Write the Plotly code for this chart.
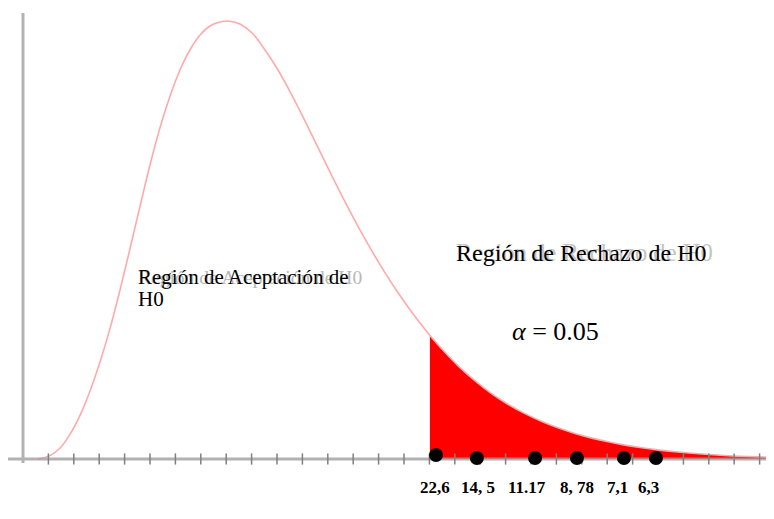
import plotly.graph_objects as go

# ---- data (x in axis-tick units, height in arbitrary density units) ----
curve_x = [0.59, 1.06, 1.46, 1.85, 2.24, 2.64, 3.03, 3.43, 3.82, 4.21, 4.61, 5.00, 5.39,
           5.79, 6.18, 6.57, 6.97, 7.36, 7.76, 8.07, 8.54, 9.02, 9.53, 10.04, 10.59, 11.10,
           11.61, 12.17, 12.68, 13.19, 13.74, 14.25, 14.76, 15.31, 15.83, 16.02, 16.61,
           17.13, 17.80, 18.46, 19.09, 19.76, 20.43, 21.06, 21.73, 22.40, 23.03, 23.70,
           24.37, 25.00, 25.67, 26.34, 27.64, 28.94, 29.57]
curve_y = [0, 3.4, 11, 24.7, 43.4, 68, 96.9, 130.9, 169, 210, 253, 294, 331,
           363, 389, 409, 424, 433, 437, 438, 435, 426, 409, 389, 363.7, 338.2,
           311.7, 282.6, 257.1, 232.6, 207.8, 186.4, 166.5, 146.7, 129.5, 123.6, 106.7,
           93.2, 78.1, 65.2, 54.8, 45.4, 37.5, 31.2, 25.6, 20.9, 17.2, 13.9,
           11.2, 9.1, 7.2, 5.7, 3.5, 2.1, 1.7]
critical_x = 16.02          # start of the rejection region
tick_positions = list(range(1, 30))
dot_x = [16.26, 17.87, 20.16, 21.81, 23.66, 24.92]
dot_y = [4, 1, 1, 1, 1, 1]
dot_labels = ["22,6", "14, 5", "11.17", "8, 78", "7,1", "6,3"]
alpha_text = "<i>α</i> = 0.05"
accept_text = ["Región de Aceptación de", "H0"]
reject_text = "Región de Rechazo de H0"

# ---- layout helpers: window pixel -> paper (page body adds an 8px offset) ----
OFF = 8
W, H = 774 - OFF, 519 - OFF
def px(x):
    return (x - OFF) / W
def py(y):
    return 1 - (y - OFF) / H

# axis mapping: tick spacing 25.4px, y-axis at x=23px; baseline at y=459px, 1 px/unit
X0, DX = 23, 25.4
Y0, DY = 459, 1.0
x_range = [(OFF - X0) / DX, (774 - X0) / DX]
y_range = [(Y0 - 519) / DY, (Y0 - OFF) / DY]

fig = go.Figure()

# rejection region fill
tail_x = [x for x in curve_x if x >= critical_x]
tail_y = [y for x, y in zip(curve_x, curve_y) if x >= critical_x]
fig.add_trace(go.Scatter(x=tail_x, y=tail_y, mode="lines", line=dict(width=0, shape="spline"),
                         fill="tozeroy", fillcolor="#ff0000", hoverinfo="skip", showlegend=False))

# density curve
fig.add_trace(go.Scatter(x=curve_x, y=curve_y, mode="lines",
                         line=dict(color="#ffaaaa", width=1.6, shape="spline"),
                         hoverinfo="skip", showlegend=False))

# axes lines
fig.add_trace(go.Scatter(x=[x_range[0], x_range[1]], y=[0, 0], mode="lines",
                         line=dict(color="rgb(160,160,160)", width=3), opacity=0.8,
                         hoverinfo="skip", showlegend=False))
fig.add_trace(go.Scatter(x=[0, 0], y=[-4, 446], mode="lines",
                         line=dict(color="#b3b3b3", width=3),
                         hoverinfo="skip", showlegend=False))
# tick marks
fig.add_trace(go.Scatter(x=tick_positions, y=[0] * len(tick_positions), mode="markers",
                         marker=dict(symbol="line-ns", size=8,
                                     line=dict(color="#808080", width=1.5)),
                         hoverinfo="skip", showlegend=False))
# black dots
fig.add_trace(go.Scatter(x=dot_x, y=dot_y, mode="markers",
                         marker=dict(color="black", size=14),
                         hoverinfo="skip", showlegend=False))

serif = "Liberation Serif"
# dot labels
label_shift = [-1, 1, -8, 0, -6, -7]
for x, lab, sh in zip(dot_x, dot_labels, label_shift):
    fig.add_annotation(x=x, y=py(487), xref="x", yref="paper", text=f"<b>{lab}</b>",
                       showarrow=False, xanchor="center", yanchor="middle", xshift=sh,
                       font=dict(family=serif, size=17, color="black"))

# ghost texts (as in the reference image)
fig.add_annotation(x=px(136), y=py(277), xref="paper", yref="paper",
                   text=" ".join(accept_text), showarrow=False, xanchor="left", yanchor="middle",
                   font=dict(family=serif, size=19.5, color="#b8b8b8"))
fig.add_annotation(x=px(454), y=py(253), xref="paper", yref="paper",
                   text=reject_text, showarrow=False, xanchor="left", yanchor="middle",
                   font=dict(family=serif, size=24.6, color="#c4c4c4"))
# main texts
fig.add_annotation(x=px(136), y=py(277), xref="paper", yref="paper",
                   text=accept_text[0], showarrow=False, xanchor="left", yanchor="middle",
                   font=dict(family=serif, size=21, color="black"))
fig.add_annotation(x=px(136), y=py(299), xref="paper", yref="paper",
                   text=accept_text[1], showarrow=False, xanchor="left", yanchor="middle",
                   font=dict(family=serif, size=21, color="black"))
fig.add_annotation(x=px(454), y=py(253), xref="paper", yref="paper",
                   text=reject_text, showarrow=False, xanchor="left", yanchor="middle",
                   font=dict(family=serif, size=24, color="black"))
fig.add_annotation(x=px(555), y=py(331), xref="paper", yref="paper",
                   text=alpha_text, showarrow=False, xanchor="center", yanchor="middle",
                   font=dict(family=serif, size=26, color="black"))

fig.update_layout(
    width=W, height=H, margin=dict(l=0, r=0, t=0, b=0),
    paper_bgcolor="white", plot_bgcolor="white",
    xaxis=dict(visible=False, range=x_range, fixedrange=True),
    yaxis=dict(visible=False, range=y_range, fixedrange=True),
    showlegend=False,
)

fig.write_html("out.html")
